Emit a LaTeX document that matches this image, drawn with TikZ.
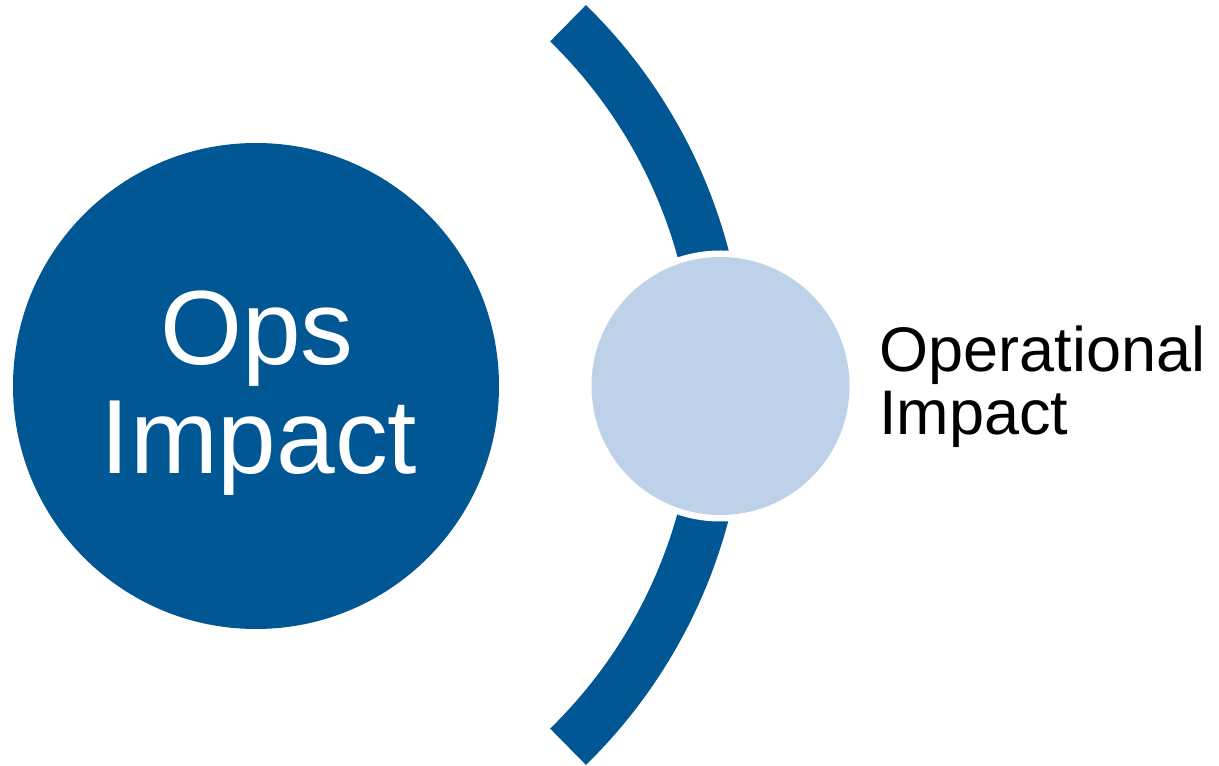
\documentclass[tikz,border=0pt]{standalone}
\usepackage{fontspec}
\setmainfont{Liberation Sans}
\definecolor{darkblue}{RGB}{1,86,148}
\definecolor{lightblue}{RGB}{189,209,233}
\tikzset{
  bigtext/.style={text=white, inner sep=0pt, font=\fontsize{105.5}{109}\selectfont, anchor=base},
  sidetext/.style={text=black, inner sep=0pt, font=\fontsize{63}{65}\selectfont, anchor=base west},
  band/.style={draw=darkblue, line width=51pt, line cap=butt}
}
\begin{document}
\begin{tikzpicture}[x=1pt,y=1pt]
\useasboundingbox (0,0) rectangle (1219,766);
% big circle
\fill[darkblue] (256,380) circle (243);
\node[bigtext] (ops) at (257,401) {Ops};
\node[bigtext] (impact) at (259,292) {Impact};
% arc band
\coordinate (arccenter) at (215,381);
\draw[band] (arccenter) ++(45.7:505.5) arc[start angle=45.7, end angle=-45.7, radius=505.5];
% small circle with white ring
\fill[white] (720.5,380) circle (135.5);
\fill[lightblue] (720.5,380) circle (129);
\node[sidetext] (op) at (879.5,394) {Operational};
\node[sidetext] (im) at (879,331) {Impact};
\end{tikzpicture}
\end{document}
